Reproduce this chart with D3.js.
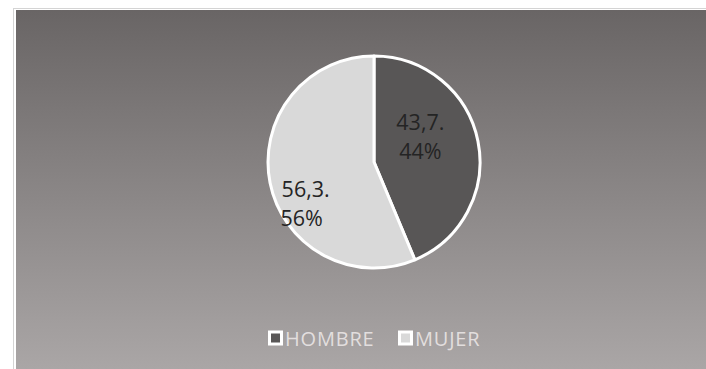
<!DOCTYPE html>
<html>
<head>
<meta charset="utf-8">
<script src="https://cdn.jsdelivr.net/npm/d3@7/dist/d3.min.js"></script>
<style>
  html, body { margin: 0; padding: 0; background: #ffffff; }
  svg { display: block; }
</style>
</head>
<body>
<svg id="chart" width="706" height="369"></svg>
<script>
// Gender split
const categories = ["HOMBRE", "MUJER"];
const values = [43.7, 56.3];
const colors = ["#585656", "#d9d9d9"];

const W = 706, H = 369;
const svg = d3.select("#chart");

// Panel background with vertical gradient
const defs = svg.append("defs");
const grad = defs.append("linearGradient").attr("id", "bg").attr("x1", 0).attr("y1", 0).attr("x2", 0).attr("y2", 1);
grad.append("stop").attr("offset", "0%").attr("stop-color", "#696565");
grad.append("stop").attr("offset", "100%").attr("stop-color", "#aaa6a6");

svg.append("rect").attr("x", 13.5).attr("y", 8.5).attr("width", W).attr("height", H)
  .attr("fill", "none").attr("stroke", "#d4d4d4").attr("stroke-width", 1);
svg.append("rect").attr("x", 16).attr("y", 10).attr("width", W - 16).attr("height", H - 10)
  .attr("fill", "url(#bg)");

// Pie
const cx = 374, cy = 162, r = 106;
const pie = d3.pie().sort(null).value(d => d)(values);
const arc = d3.arc().innerRadius(0).outerRadius(r);
const g = svg.append("g").attr("transform", `translate(${cx},${cy})`);
g.selectAll("path").data(pie).join("path")
  .attr("d", arc)
  .attr("fill", (d, i) => colors[i])
  .attr("stroke", "#ffffff")
  .attr("stroke-width", 3)
  .attr("stroke-linejoin", "round");

// Data labels: value and percentage, two lines near each slice centroid
const total = d3.sum(values);
const fmtVal = v => v.toFixed(1).replace(".", ",") + ".";
const fmtPct = v => Math.round(v / total * 100) + "%";
const labelArc = d3.arc().innerRadius(r * 0.6).outerRadius(r * 0.6);
const labelShift = [[-16, -20], [-6, 22]];
pie.forEach((d, i) => {
  const [x0, y0] = labelArc.centroid(d);
  const x = x0 + labelShift[i][0], y = y0 + labelShift[i][1];
  const t = g.append("text")
    .attr("text-anchor", "middle")
    .attr("font-family", "'Open Sans', 'Noto Sans', sans-serif")
    .attr("font-size", 21.5)
    .attr("fill", "#242424");
  t.append("tspan").attr("x", x).attr("y", y).text(fmtVal(d.data));
  t.append("tspan").attr("x", x - (i === 1 ? 4 : 0)).attr("y", y + 29).text(fmtPct(d.data));
});

// Legend
const legendY = 338;
const legendX = [268, 398];
const lg = svg.append("g");
categories.forEach((c, i) => {
  const x = legendX[i];
  lg.append("rect").attr("x", x).attr("y", legendY - 7.5).attr("width", 15).attr("height", 15)
    .attr("fill", "#ffffff");
  lg.append("rect").attr("x", x + 3).attr("y", legendY - 4.5).attr("width", 9).attr("height", 9)
    .attr("fill", colors[i]);
  lg.append("text").attr("x", x + 17).attr("y", legendY)
    .attr("dominant-baseline", "central")
    .attr("font-family", "'Open Sans', 'Noto Sans', sans-serif")
    .attr("font-size", 20)
    .attr("letter-spacing", 0.8)
    .attr("fill", "#e2dede")
    .text(c);
});
</script>
</body>
</html>
